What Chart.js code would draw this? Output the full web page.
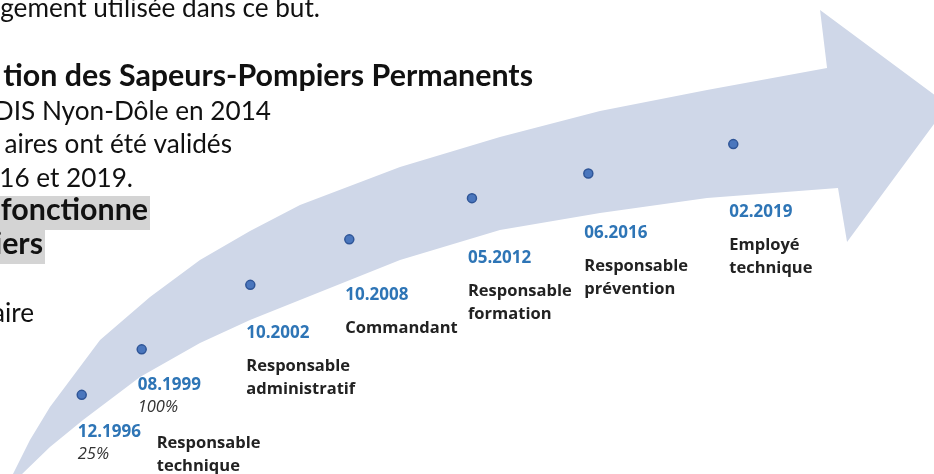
<!DOCTYPE html>
<html lang="fr">
<head>
<meta charset="utf-8">
<title>Parcours</title>
<script src="https://cdn.jsdelivr.net/npm/chart.js@4.4.1/dist/chart.umd.min.js"></script>
<style>
    html, body {
        margin: 0;
        padding: 0;
        background: #ffffff;
    }
    #wrap {
        width: 934px;
        height: 474px;
        position: relative;
        overflow: hidden;
    }
</style>
</head>
<body>
<div id="wrap"><canvas id="timeline" width="934" height="474"></canvas></div>
<script>
    // étapes du parcours
    const dates = ['12.1996', '08.1999', '10.2002', '10.2008', '05.2012', '06.2016', '02.2019'];
    const rates = ['25%', '100%', '', '', '', '', ''];
    const roles = [
        ['Responsable', 'technique'],
        [],
        ['Responsable', 'administratif'],
        ['Commandant'],
        ['Responsable', 'formation'],
        ['Responsable', 'prévention'],
        ['Employé', 'technique']
    ];
    // position le long de la flèche (0-100)
    const stepX = [8.75, 15.17, 26.8, 37.4, 50.53, 62.99, 78.51];
    const stepY = [16.7, 26.3, 39.9, 49.5, 58.2, 63.4, 69.6];

    // contour de la flèche (bord haut, pointe, bord bas)
    const arrowX = [1.39, 3.21, 5.35, 10.71, 16.06, 21.41, 26.77, 32.12, 42.83, 53.53, 64.24, 75.70, 88.55,
        87.80, 101.50, 90.69,
        89.72, 75.70, 64.24, 53.53, 42.83, 32.12, 26.77, 21.41, 14.99, 8.89, 5.35, 2.36];
    const arrowY = [0, 7.17, 14.14, 28.27, 37.34, 45.15, 51.27, 56.75, 64.77, 71.10, 76.58, 81.01, 85.65,
        97.89, 77.85, 48.95,
        60.34, 58.23, 55.06, 51.48, 45.15, 36.71, 32.49, 27.64, 20.46, 11.39, 5.70, 0];

    // texte de la page (coupé à gauche)
    const pageLines = [
        'gement utilisée dans ce but.',
        'tion des Sapeurs-Pompiers Permanents',
        'DIS Nyon-Dôle en 2014',
        'aires ont été validés',
        '16 et 2019.',
        ' fonctionne',
        'iers',
        '',
        'aire'
    ];

    const textFont = 'Lato, "Open Sans", sans-serif';
    const labelFont = '"Open Sans", Lato, sans-serif';
    const pageEnds = [320, 533, 271, 232, 133, 148, 43, 0, 34];
    const pageBaselines = [17, 86, 120, 153, 187, 220, 254, 288, 322];
    const pageBold = [false, true, false, false, false, true, true, false, false];
    const pageHighlight = [null, null, null, null, null, [0, 150], [0, 45], null, null];
    const dateDy = [37, 36, 48, 56, 60, 60, 68];

    function fitSize(ctx, text, weight, width) {
        ctx.font = weight + ' 100px ' + textFont;
        return 100 * width / ctx.measureText(text).width;
    }

    const pageTextPlugin = {
        id: 'pageText',
        beforeDatasetsDraw(chart) {
            const ctx = chart.ctx;
            const regularSize = fitSize(ctx, pageLines[0], 'normal', pageEnds[0]);
            const boldSize = fitSize(ctx, pageLines[1], 'bold', pageEnds[1] - 3);
            ctx.save();
            pageLines.forEach((line, i) => {
                if (!line) {
                    return;
                }
                const box = pageHighlight[i];
                if (box) {
                    ctx.fillStyle = '#d4d4d4';
                    ctx.fillRect(box[0], pageBaselines[i] - 24, box[1] - box[0], 34);
                }
                ctx.font = pageBold[i]
                    ? 'bold ' + boldSize + 'px ' + textFont
                    : 'normal ' + regularSize + 'px ' + textFont;
                ctx.fillStyle = '#111111';
                ctx.textAlign = 'right';
                ctx.textBaseline = 'alphabetic';
                ctx.fillText(line, pageEnds[i], pageBaselines[i]);
            });
            ctx.restore();
        }
    };

    const arrowPlugin = {
        id: 'arrowShape',
        beforeDatasetsDraw(chart) {
            const meta = chart.getDatasetMeta(1);
            const ctx = chart.ctx;
            const area = chart.chartArea;
            ctx.save();
            ctx.beginPath();
            ctx.rect(area.left, area.top, area.right - area.left, area.bottom - area.top);
            ctx.clip();
            ctx.beginPath();
            meta.data.forEach((p, i) => {
                if (i === 0) {
                    ctx.moveTo(p.x, p.y);
                } else {
                    ctx.lineTo(p.x, p.y);
                }
            });
            ctx.closePath();
            ctx.fillStyle = '#cfd7e8';
            ctx.fill();
            ctx.restore();
        }
    };

    const labelPlugin = {
        id: 'stepLabels',
        afterDatasetsDraw(chart) {
            const meta = chart.getDatasetMeta(0);
            const ctx = chart.ctx;
            ctx.save();
            ctx.textAlign = 'left';
            ctx.textBaseline = 'middle';
            meta.data.forEach((p, i) => {
                const x = p.x - 4;
                const y = p.y + dateDy[i];
                ctx.font = 'bold 17px ' + labelFont;
                ctx.fillStyle = '#2e75b6';
                ctx.fillText(dates[i], x, y);

                if (rates[i]) {
                    ctx.font = 'italic 16.5px ' + labelFont;
                    ctx.fillStyle = '#333333';
                    ctx.fillText(rates[i], x, y + 22);
                }

                let roleX = x;
                let roleY = y + 33;
                if (i === 0) {
                    roleX = p.x + 75;
                    roleY = p.y + 48;
                }
                ctx.font = 'bold 16.5px ' + labelFont;
                ctx.fillStyle = '#222222';
                roles[i].forEach((line, k) => {
                    ctx.fillText(line, roleX, roleY + k * 23);
                });
            });
            ctx.restore();
        }
    };

    const steps = stepX.map((x, i) => ({x: x, y: stepY[i]}));
    const outline = arrowX.map((x, i) => ({x: x, y: arrowY[i]}));

    const timeline = new Chart(document.getElementById('timeline').getContext('2d'), {
        type: 'scatter',
        data: {
            datasets: [{
                label: 'Étapes',
                data: steps,
                pointRadius: 4.5,
                pointBackgroundColor: '#4a76bd',
                pointBorderColor: '#2f5597',
                pointBorderWidth: 1.5,
                order: 0
            }, {
                label: 'Flèche',
                data: outline,
                pointRadius: 0,
                showLine: false,
                order: 1
            }]
        },
        options: {
            responsive: false,
            animation: false,
            devicePixelRatio: 1,
            layout: {padding: 0, autoPadding: false},
            scales: {
                x: {type: 'linear', min: 0, max: 100, display: false},
                y: {type: 'linear', min: 0, max: 100, display: false}
            },
            plugins: {
                legend: {display: false},
                tooltip: {enabled: false}
            }
        },
        plugins: [pageTextPlugin, arrowPlugin, labelPlugin]
    });
</script>
</body>
</html>
